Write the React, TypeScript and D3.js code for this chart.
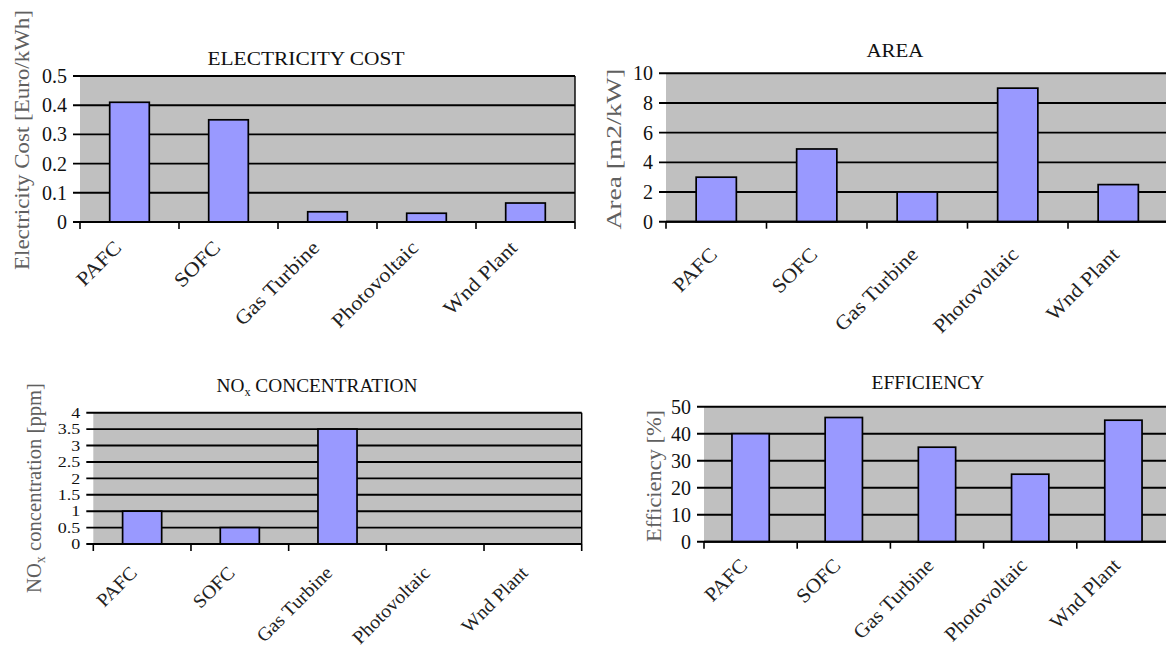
import React from 'react';
import * as d3 from 'd3';

// Technology categories shared by all four panels
const categories = ['PAFC', 'SOFC', 'Gas Turbine', 'Photovoltaic', 'Wnd Plant'];

// Values per panel
const costValues = [0.41, 0.35, 0.035, 0.03, 0.065];
const areaValues = [3, 4.9, 2, 9, 2.5];
const noxValues = [1, 0.5, 3.5, 0, 0];
const efficiencyValues = [40, 46, 35, 25, 45];

// Value-axis ticks per panel
const costTicks = [0, 0.1, 0.2, 0.3, 0.4, 0.5];
const areaTicks = [0, 2, 4, 6, 8, 10];
const noxTicks = [0, 0.5, 1, 1.5, 2, 2.5, 3, 3.5, 4];
const efficiencyTicks = [0, 10, 20, 30, 40, 50];

const FONT = "'Liberation Serif', 'Times New Roman', serif";
const PLOT_BG = '#c0c0c0';
const BAR_FILL = '#9999ff';

type PanelSpec = {
  id: string;
  values: number[];
  ticks: number[];
  x0: number;
  x1: number;
  yTop: number;
  yBottom: number;
  title: React.ReactNode;
  titleX: number;
  titleY: number;
  titleLen: number;
  yTitle: React.ReactNode;
  yTitleX: number;
  yTitleY: number;
  yTitleLen: number;
  tickSize: number;
  tickStretch: number;
  labelDx: number;
  labelDy: number;
  labelSize: number;
  labelStretch: number;
  rightBorder: boolean;
};

const panels: PanelSpec[] = [
  {
    id: 'cost',
    values: costValues,
    ticks: costTicks,
    x0: 80, x1: 575, yTop: 76, yBottom: 222,
    title: 'ELECTRICITY COST', titleX: 306, titleY: 65, titleLen: 197,
    yTitle: 'Electricity Cost [Euro/kWh]', yTitleX: 22, yTitleY: 140, yTitleLen: 260,
    tickSize: 20, tickStretch: 1,
    labelDx: -7, labelDy: 27, labelSize: 20, labelStretch: 1.12,
    rightBorder: true,
  },
  {
    id: 'area',
    values: areaValues,
    ticks: areaTicks,
    x0: 666, x1: 1168.5, yTop: 73.3, yBottom: 221.7,
    title: 'AREA', titleX: 895, titleY: 57, titleLen: 57,
    yTitle: 'Area [m2/kW]', yTitleX: 614, yTitleY: 149, yTitleLen: 161,
    tickSize: 20, tickStretch: 1,
    labelDx: 2, labelDy: 34, labelSize: 20, labelStretch: 1.1,
    rightBorder: false,
  },
  {
    id: 'nox',
    values: noxValues,
    ticks: noxTicks,
    x0: 93.3, x1: 581.7, yTop: 412.7, yBottom: 544,
    title: (
      <>
        NO<tspan fontSize={12} dy={4}>x</tspan>
        <tspan dy={-4}> CONCENTRATION</tspan>
      </>
    ),
    titleX: 317, titleY: 392, titleLen: 201,
    yTitle: (
      <>
        NO<tspan fontSize={14} dy={4}>x</tspan>
        <tspan dy={-4}> concentration [ppm]</tspan>
      </>
    ),
    yTitleX: 34, yTitleY: 488, yTitleLen: 210,
    tickSize: 15, tickStretch: 1.2,
    labelDx: -4, labelDy: 30, labelSize: 19, labelStretch: 1.05,
    rightBorder: true,
  },
  {
    id: 'efficiency',
    values: efficiencyValues,
    ticks: efficiencyTicks,
    x0: 704, x1: 1170, yTop: 406.7, yBottom: 541.7,
    title: 'EFFICIENCY', titleX: 928, titleY: 389, titleLen: 113,
    yTitle: 'Efficiency [%]', yTitleX: 654, yTitleY: 476, yTitleLen: 132,
    tickSize: 20, tickStretch: 1,
    labelDx: -2, labelDy: 25, labelSize: 20, labelStretch: 1.06,
    rightBorder: false,
  },
];

function BarPanel({ p }: { p: PanelSpec }) {
  const yMax = p.ticks[p.ticks.length - 1];
  const x = d3
    .scaleBand<string>()
    .domain(categories)
    .range([p.x0, p.x1])
    .paddingInner(0.6)
    .paddingOuter(0.3);
  const y = d3.scaleLinear().domain([0, yMax]).range([p.yBottom, p.yTop]);
  const step = x.step();
  const bounds = d3.range(categories.length + 1).map((i) => p.x0 + i * step);
  const base = y(0);

  return (
    <g>
      {/* plot area */}
      <rect x={p.x0} y={y(yMax)} width={p.x1 - p.x0} height={base - y(yMax)} fill={PLOT_BG} />

      {/* gridlines, extended left as tick marks */}
      {p.ticks.map((t) => (
        <line
          key={`g${t}`}
          x1={p.x0 - 7}
          x2={p.x1}
          y1={y(t)}
          y2={y(t)}
          stroke="#000"
          strokeWidth={1.9}
        />
      ))}

      {/* bars */}
      {categories.map((c, i) =>
        p.values[i] > 0 ? (
          <rect
            key={`b${c}`}
            x={x(c)}
            y={y(p.values[i])}
            width={x.bandwidth()}
            height={base - y(p.values[i])}
            fill={BAR_FILL}
            stroke="#000"
            strokeWidth={1.7}
          />
        ) : null
      )}

      {/* category axis and ticks */}
      <line x1={p.x0} x2={p.x1} y1={base} y2={base} stroke="#000" strokeWidth={1.9} />
      {bounds.map((b, i) => (
        <line key={`xt${i}`} x1={b} x2={b} y1={base} y2={base + 7} stroke="#000" strokeWidth={1.6} />
      ))}
      {p.rightBorder && (
        <line x1={p.x1} x2={p.x1} y1={y(yMax)} y2={base} stroke="#000" strokeWidth={1.4} />
      )}

      {/* value tick labels */}
      {p.ticks.map((t) => (
        <text
          key={`yl${t}`}
          transform={`translate(${p.x0 - 13},${y(t)}) scale(${p.tickStretch},1)`}
          dy="0.35em"
          textAnchor="end"
          fontFamily={FONT}
          fontSize={p.tickSize}
          fill="#111"
        >
          {String(t)}
        </text>
      ))}

      {/* category labels */}
      {categories.map((c) => {
        const cx = (x(c) as number) + x.bandwidth() / 2 + p.labelDx;
        const cy = base + p.labelDy;
        return (
          <text
            key={`xl${c}`}
            transform={`translate(${cx},${cy}) rotate(-45) scale(${p.labelStretch},1)`}
            textAnchor="end"
            fontFamily={FONT}
            fontSize={p.labelSize}
            fill="#222"
          >
            {c}
          </text>
        );
      })}

      {/* chart title */}
      <text
        x={p.titleX}
        y={p.titleY}
        textAnchor="middle"
        fontFamily={FONT}
        fontSize={19}
        fill="#111"
        textLength={p.titleLen}
        lengthAdjust="spacingAndGlyphs"
      >
        {p.title}
      </text>

      {/* value axis title */}
      <text
        transform={`translate(${p.yTitleX},${p.yTitleY}) rotate(-90)`}
        textAnchor="middle"
        dy="0.35em"
        fontFamily={FONT}
        fontSize={20.5}
        fill="#606060"
        textLength={p.yTitleLen}
        lengthAdjust="spacingAndGlyphs"
      >
        {p.yTitle}
      </text>
    </g>
  );
}

export default function App() {
  return (
    <svg
      width={1166}
      height={649}
      viewBox="0 0 1166 649"
      style={{ position: 'absolute', left: 0, top: 0, background: '#fff' }}
    >
      <rect x={0} y={0} width={1166} height={649} fill="#fff" />
      {panels.map((p) => (
        <BarPanel key={p.id} p={p} />
      ))}
    </svg>
  );
}
